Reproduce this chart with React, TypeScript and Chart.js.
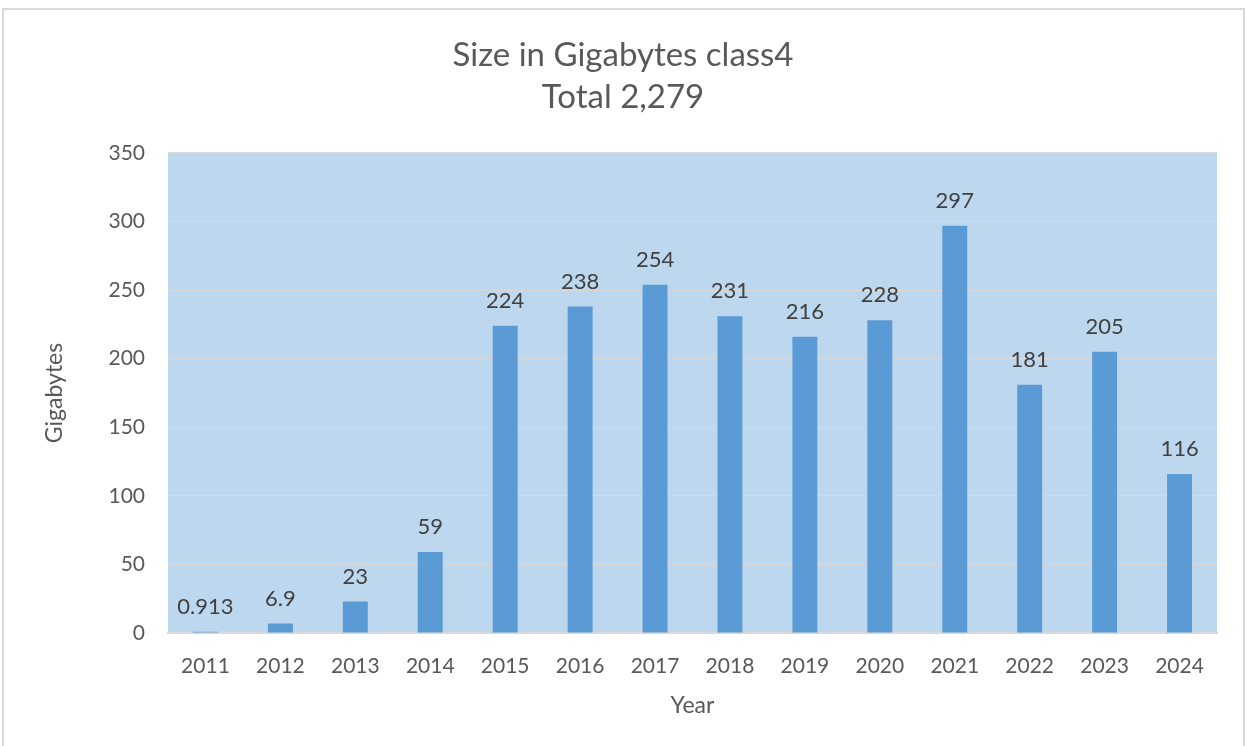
import React, { useEffect, useRef } from "react";
import { Chart, registerables } from "chart.js";

Chart.register(...registerables);

const years = ["2011", "2012", "2013", "2014", "2015", "2016", "2017", "2018", "2019", "2020", "2021", "2022", "2023", "2024"];
const sizesGB = [0.913, 6.9, 23, 59, 224, 238, 254, 231, 216, 228, 297, 181, 205, 116];
const titleLines = ["Size in Gigabytes class4", "Total 2,279"];
const yAxisTitle = "Gigabytes";
const xAxisTitle = "Year";

const FONT = "Lato, 'Open Sans', sans-serif";

const plotBg = {
  id: "plotBg",
  beforeDraw(chart: any) {
    const { ctx, chartArea } = chart;
    ctx.save();
    ctx.fillStyle = "#BDD7EE";
    ctx.fillRect(chartArea.left, chartArea.top, chartArea.right - chartArea.left, chartArea.bottom - chartArea.top);
    ctx.restore();
  },
};

const barLabels = {
  id: "barLabels",
  afterDatasetsDraw(chart: any) {
    const { ctx } = chart;
    const meta = chart.getDatasetMeta(0);
    const data = chart.data.datasets[0].data;
    ctx.save();
    ctx.font = `22px ${FONT}`;
    ctx.fillStyle = "#404040";
    ctx.textAlign = "center";
    ctx.textBaseline = "middle";
    meta.data.forEach((bar: any, i: number) => {
      ctx.fillText(String(data[i]), bar.x, bar.y - 25);
    });
    ctx.restore();
  },
};

export default function App() {
  const ref = useRef<HTMLCanvasElement>(null);
  useEffect(() => {
    if (!ref.current) return;
    const chart = new Chart(ref.current, {
      type: "bar",
      data: {
        labels: years,
        datasets: [
          {
            data: sizesGB,
            backgroundColor: "#5B9BD5",
            borderWidth: 0,
            categoryPercentage: 1,
            barPercentage: 0.333,
          },
        ],
      },
      options: {
        responsive: false,
        animation: false,
        layout: { padding: { left: 29, right: 29, top: 0, bottom: 0 } },
        plugins: {
          legend: { display: false },
          tooltip: { enabled: false },
          title: {
            display: true,
            text: titleLines,
            color: "#595959",
            font: { family: FONT, size: 33, weight: "normal", lineHeight: 1.2727 },
            padding: { top: 34, bottom: 35 },
          },
        },
        scales: {
          x: {
            grid: { display: false, drawTicks: false },
            border: { display: true, color: "#D9D9D9", width: 2 },
            ticks: { color: "#595959", font: { family: FONT, size: 21 }, padding: 21 },
            title: {
              display: true,
              text: xAxisTitle,
              color: "#595959",
              font: { family: FONT, size: 23, lineHeight: 1.2 },
              padding: { top: 0, bottom: 27 },
            },
            afterFit(scale: any) {
              scale.height = 113;
            },
          },
          y: {
            min: 0,
            max: 350,
            ticks: { stepSize: 50, color: "#595959", font: { family: FONT, size: 21 }, padding: 23 },
            grid: { color: "#D9D9D9", lineWidth: 1, drawTicks: false },
            border: { display: false },
            title: {
              display: true,
              text: yAxisTitle,
              color: "#595959",
              font: { family: FONT, size: 23, lineHeight: 1.2 },
              padding: { top: 12, bottom: 0 },
            },
            afterFit(scale: any) {
              scale.width = 139;
            },
          },
        },
      },
      plugins: [plotBg, barLabels],
    });
    return () => chart.destroy();
  }, []);

  return (
    <div style={{ position: "fixed", left: 0, top: 0, width: 1246, height: 746, overflow: "hidden", background: "#fff" }}>
      <div
        style={{
          position: "absolute",
          left: 2,
          top: 8,
          width: 1239,
          height: 760,
          border: "2px solid #D9D9D9",
        }}
      />
      <canvas ref={ref} width={1246} height={746} style={{ position: "absolute", left: 0, top: 0, width: 1246, height: 746 }} />
    </div>
  );
}
